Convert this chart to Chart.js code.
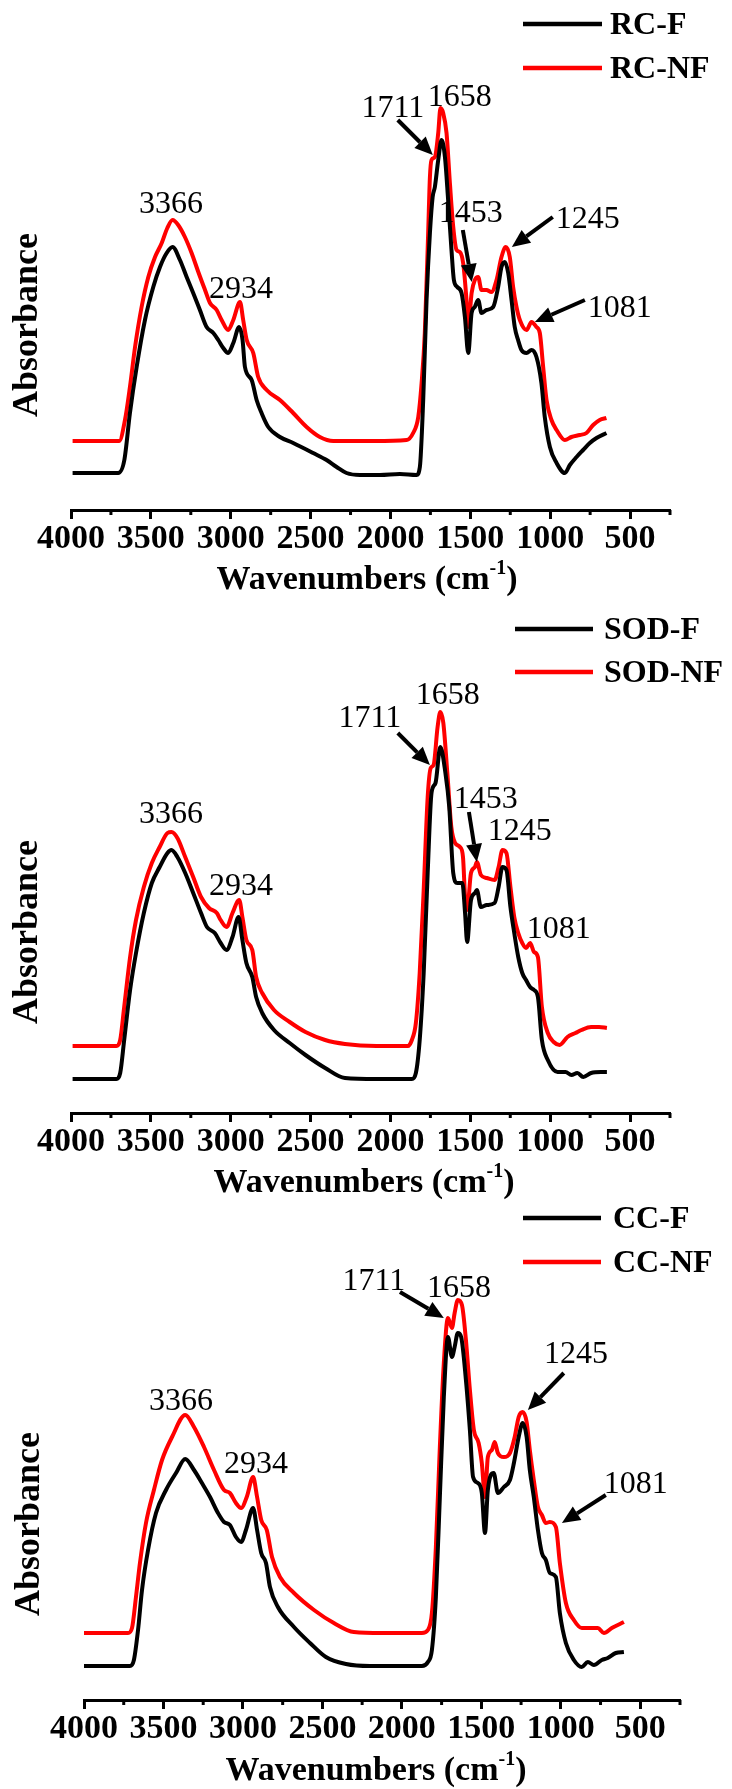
<!DOCTYPE html>
<html><head><meta charset="utf-8">
<script src="https://cdn.jsdelivr.net/npm/chart.js@4.4.1/dist/chart.umd.min.js"></script>
<style>
html,body{margin:0;padding:0;background:#fff;}
body{width:732px;height:1789px;position:relative;overflow:hidden;}
canvas{position:absolute;left:0;}
</style></head><body>
<canvas id="c1" width="732" height="600" style="top:0px"></canvas>
<canvas id="c2" width="732" height="600" style="top:600px"></canvas>
<canvas id="c3" width="732" height="589" style="top:1200px"></canvas>
<script>
// ---- tick labels ----
const xTickValues = [4000,3500,3000,2500,2000,1500,1000,500];
const xMinorValues = [3750,3250,2750,2250,1750,1250,750,250];

// ---- series names ----
const namesRC = ['RC-F','RC-NF'];
const namesSOD = ['SOD-F','SOD-NF'];
const namesCC = ['CC-F','CC-NF'];

// ---- RC panel ----
const rcF_wn = [3990,3704,3666,3631,3589,3537,3485,3443,3401,3364,3318,3276,3235,3193,3151,3109,3078,3047,3016,2984,2947,2926,2911,2869,2838,2807,2765,2692,2609,2484,2400,2337,2275,2191,2066,1941,1837,1816,1795,1774,1753,1736,1722,1701,1680,1659,1639,1618,1603,1582,1555,1534,1513,1492,1472,1451,1430,1399,1357,1326,1305,1284,1263,1242,1222,1201,1180,1148,1117,1086,1055,1034,1002,960,908,877,835,794,752,710,648];
const rcF_abs = [.37,.37,.50,.97,1.43,1.90,2.23,2.43,2.57,2.63,2.50,2.33,2.17,2.00,1.83,1.77,1.70,1.62,1.57,1.67,1.83,1.70,1.43,1.30,1.10,.97,.83,.73,.67,.57,.50,.43,.37,.35,.35,.36,.35,.43,1.10,2.10,2.77,3.13,3.23,3.50,3.70,3.53,3.10,2.60,2.30,2.23,2.17,1.93,1.57,1.97,2.03,2.10,1.97,2.00,2.03,2.23,2.43,2.48,2.37,2.10,1.83,1.70,1.60,1.57,1.60,1.53,1.27,.93,.63,.47,.37,.45,.53,.60,.67,.72,.77];
const rcNF_wn = [3990,3698,3662,3631,3599,3558,3516,3474,3432,3397,3364,3329,3287,3245,3203,3161,3130,3088,3057,3016,2984,2942,2922,2900,2859,2828,2775,2692,2609,2525,2442,2358,2100,1899,1858,1826,1805,1785,1764,1753,1743,1722,1701,1687,1670,1649,1628,1607,1586,1566,1545,1524,1513,1492,1472,1451,1430,1399,1368,1336,1305,1278,1253,1232,1211,1190,1148,1117,1086,1065,1044,1023,992,960,908,867,815,773,731,690,648];
const rcNF_abs = [.69,.69,.90,1.23,1.63,2.03,2.33,2.53,2.67,2.82,2.90,2.85,2.73,2.57,2.38,2.20,2.07,2.00,1.90,1.80,1.90,2.08,1.90,1.70,1.57,1.33,1.20,1.10,.97,.83,.73,.69,.69,.70,.77,.93,1.27,1.77,2.77,3.33,3.50,3.53,3.77,4.02,3.97,3.77,3.27,2.83,2.60,2.58,2.47,2.10,1.83,2.17,2.30,2.33,2.20,2.20,2.18,2.30,2.53,2.63,2.53,2.23,2.03,1.90,1.80,1.88,1.83,1.77,1.43,1.10,.90,.80,.70,.73,.75,.77,.85,.90,.92];

// ---- SOD panel ----
const sodF_wn = [3990,3716,3692,3667,3630,3593,3544,3494,3445,3396,3371,3334,3285,3235,3186,3149,3100,3063,3026,2989,2951,2927,2902,2865,2841,2803,2729,2631,2532,2409,2285,2088,1866,1841,1817,1792,1767,1743,1718,1688,1656,1632,1607,1582,1550,1533,1520,1496,1471,1459,1434,1397,1348,1323,1299,1274,1249,1225,1200,1175,1151,1126,1101,1077,1052,1015,954,904,867,830,793,744,682,645];
const sodF_abs = [.34,.34,.40,.73,1.23,1.60,2.00,2.30,2.46,2.60,2.63,2.56,2.40,2.20,2.00,1.86,1.80,1.70,1.63,1.76,1.96,1.73,1.50,1.36,1.16,1.00,.83,.70,.58,.45,.35,.34,.34,.40,.73,1.40,2.40,3.20,3.30,3.66,3.40,3.06,2.40,2.30,2.30,2.00,1.71,2.13,2.20,2.23,2.06,2.08,2.10,2.26,2.46,2.43,2.06,1.80,1.56,1.40,1.33,1.26,1.23,1.16,.73,.53,.41,.41,.38,.40,.36,.40,.41,.41];
const sodNF_wn = [3990,3716,3692,3667,3630,3593,3544,3494,3445,3396,3371,3334,3285,3235,3186,3136,3087,3063,3026,2989,2947,2927,2902,2865,2841,2803,2729,2631,2532,2409,2285,2088,1891,1866,1841,1817,1792,1767,1748,1730,1705,1688,1669,1644,1619,1595,1565,1546,1533,1520,1496,1471,1459,1434,1397,1348,1323,1299,1274,1249,1225,1200,1175,1151,1126,1101,1077,1052,1015,978,941,892,842,805,744,694,645];
const sodNF_abs = [.67,.67,.73,1.06,1.56,1.93,2.26,2.50,2.66,2.80,2.81,2.75,2.56,2.36,2.16,2.05,2.00,1.93,1.86,2.00,2.13,1.96,1.73,1.63,1.36,1.20,1.03,.91,.81,.73,.69,.67,.67,.73,.90,1.40,2.23,3.16,3.45,3.48,3.86,4.01,3.90,3.40,2.86,2.70,2.66,2.56,2.16,2.03,2.40,2.46,2.51,2.38,2.35,2.33,2.46,2.63,2.60,2.26,1.96,1.80,1.70,1.65,1.70,1.61,1.56,1.06,.80,.71,.68,.76,.80,.83,.86,.86,.85];

// ---- CC panel ----
const ccF_wn = [4000,3711,3686,3660,3635,3597,3547,3484,3421,3363,3308,3258,3207,3157,3119,3082,3044,3011,2981,2936,2911,2885,2855,2830,2780,2679,2578,2478,2352,2201,1874,1836,1811,1786,1761,1736,1710,1685,1668,1648,1627,1597,1572,1552,1522,1497,1477,1459,1422,1396,1358,1320,1295,1265,1240,1215,1195,1170,1144,1119,1094,1069,1031,1006,968,918,868,830,792,742,704,654,603];
const ccF_abs = [.34,.34,.40,.70,1.10,1.50,1.87,2.10,2.27,2.41,2.30,2.17,2.03,1.87,1.78,1.75,1.63,1.58,1.70,1.92,1.70,1.47,1.37,1.13,.93,.73,.57,.43,.36,.34,.34,.38,.50,1.03,2.03,3.03,3.63,3.43,3.53,3.67,3.63,3.20,2.70,2.23,2.17,2.07,1.67,2.10,2.27,2.07,2.13,2.20,2.37,2.63,2.77,2.63,2.30,2.03,1.70,1.47,1.40,1.27,1.23,.87,.57,.40,.33,.38,.35,.40,.42,.47,.48];
const ccNF_wn = [4000,3723,3698,3673,3648,3610,3560,3509,3446,3363,3308,3245,3182,3119,3082,3044,3011,2976,2936,2911,2885,2850,2817,2767,2679,2553,2428,2302,2126,1874,1836,1811,1786,1761,1736,1710,1685,1668,1648,1622,1597,1572,1547,1517,1497,1477,1459,1434,1416,1396,1358,1320,1290,1265,1240,1215,1195,1170,1144,1119,1094,1069,1031,1006,968,918,868,817,767,729,679,603];
const ccNF_abs = [.67,.67,.72,1.03,1.37,1.77,2.10,2.40,2.63,2.85,2.73,2.53,2.30,2.10,2.07,1.97,1.92,2.03,2.23,2.03,1.80,1.70,1.43,1.23,1.07,.90,.77,.68,.67,.67,.70,.87,1.53,2.53,3.37,3.82,3.72,3.87,4.00,3.95,3.60,3.10,2.70,2.57,2.37,2.03,2.43,2.50,2.58,2.47,2.43,2.47,2.63,2.83,2.88,2.78,2.50,2.20,1.93,1.85,1.77,1.78,1.73,1.37,.97,.80,.72,.72,.72,.67,.72,.78];

// ---- peak annotation texts ----
const peaksRC = ['3366','2934','1711','1658','1453','1245','1081'];
const peaksSOD = ['3366','2934','1711','1658','1453','1245','1081'];
const peaksCC = ['3366','2934','1711','1658','1245','1081'];

// ---- placement of annotations (data coordinates: wavenumber, absorbance) ----
const notePlaceRC = [
  {wn:3374,v:2.97},{wn:2936,v:2.12},
  {wn:1985,v:3.93,arrow:[1954,3.90,1735,3.55]},
  {wn:1566,v:4.04},
  {wn:1497,v:2.88,arrow:[1547,2.80,1491,2.28]},
  {wn:765,v:2.82,arrow:[984,2.93,1240,2.63]},
  {wn:564,v:1.93,arrow:[783,2.10,1096,1.88]}
];
const notePlaceSOD = [
  {wn:3374,v:2.90},{wn:2936,v:2.18},
  {wn:2129,v:3.86,arrow:[1954,3.80,1753,3.48]},
  {wn:1641,v:4.09},
  {wn:1403,v:3.05,arrow:[1509,3.01,1459,2.51]},
  {wn:1190,v:2.73},
  {wn:946,v:1.75}
];
const notePlaceCC = [
  {wn:3390,v:2.90},{wn:2918,v:2.27},
  {wn:2176,v:4.10,arrow:[2012,4.08,1736,3.82]},
  {wn:1641,v:4.03},
  {wn:905,v:3.37,arrow:[981,3.27,1207,2.90]},
  {wn:528,v:2.07,arrow:[717,2.05,993,1.77]}
];

const SERIF = '"Liberation Serif","Times New Roman",serif';
const COLORS = ['#000000','#ff0000'];

function pairs(wn, ab){ const n=Math.min(wn.length, ab.length); const out=[]; for(let i=0;i<n;i++) out.push({x:wn[i], y:ab[i]}); return out; }

function drawArrow(ctx,x1,y1,x2,y2){
  const a=Math.atan2(y2-y1,x2-x1), L=18, W=8;
  const bx=x2-L*Math.cos(a), by=y2-L*Math.sin(a);
  ctx.beginPath(); ctx.moveTo(x1,y1); ctx.lineTo(bx,by); ctx.lineWidth=4; ctx.lineCap='butt'; ctx.stroke();
  ctx.beginPath(); ctx.moveTo(x2,y2);
  ctx.lineTo(bx-W*Math.sin(a), by+W*Math.cos(a));
  ctx.lineTo(bx+W*Math.sin(a), by-W*Math.cos(a));
  ctx.closePath(); ctx.fill();
}

const decorPlugin = {
  id:'decor',
  afterDraw(chart){
    const P = chart.options.plugins.decor;
    const ctx = chart.ctx, xs = chart.scales.x, ys = chart.scales.y;
    const yb = chart.chartArea.bottom;
    ctx.save();
    ctx.fillStyle='#000'; ctx.strokeStyle='#000';
    // minor ticks
    ctx.lineWidth=3;
    xMinorValues.forEach(v=>{ const px=xs.getPixelForValue(v); ctx.beginPath(); ctx.moveTo(px,yb); ctx.lineTo(px,yb+5); ctx.stroke(); });
    // legend
    chart.data.datasets.forEach((ds,i)=>{
      const ly=P.legend.y[i];
      ctx.strokeStyle=ds.borderColor; ctx.lineWidth=4.5;
      ctx.beginPath(); ctx.moveTo(P.legend.x1,ly); ctx.lineTo(P.legend.x2,ly); ctx.stroke();
      ctx.fillStyle='#000'; ctx.font='bold 32px '+SERIF; ctx.textAlign='left'; ctx.textBaseline='middle';
      ctx.fillText(ds.label, P.legend.tx, ly+2);
    });
    // annotations
    ctx.fillStyle='#000'; ctx.strokeStyle='#000';
    ctx.font='32px '+SERIF; ctx.textAlign='center'; ctx.textBaseline='alphabetic';
    P.notes.forEach((n,i)=>{
      ctx.fillText(P.texts[i], xs.getPixelForValue(n.wn), ys.getPixelForValue(n.v));
      if(n.arrow){
        const a=n.arrow;
        drawArrow(ctx, xs.getPixelForValue(a[0]), ys.getPixelForValue(a[1]), xs.getPixelForValue(a[2]), ys.getPixelForValue(a[3]));
      }
    });
    // y title
    ctx.save();
    ctx.translate(P.ytitle.x, P.ytitle.y); ctx.rotate(-Math.PI/2);
    ctx.font='bold 36px '+SERIF; ctx.textAlign='center'; ctx.textBaseline='middle';
    ctx.fillText('Absorbance',0,0);
    ctx.restore();
    // x title with superscript
    const t1='Wavenumbers (cm', t2='-1', t3=')';
    const fMain='bold 34px '+SERIF, fSup='bold 20px '+SERIF;
    ctx.font=fMain; const w1=ctx.measureText(t1).width, w3=ctx.measureText(t3).width;
    ctx.font=fSup; const w2=ctx.measureText(t2).width;
    let sx=P.xtitle.x-(w1+w2+w3)/2, by=P.xtitle.y;
    ctx.textAlign='left'; ctx.textBaseline='alphabetic';
    ctx.font=fMain; ctx.fillText(t1,sx,by);
    ctx.font=fSup; ctx.fillText(t2,sx+w1,by-15);
    ctx.font=fMain; ctx.fillText(t3,sx+w1+w2,by);
    ctx.restore();
  }
};

function makePanel(cfg){
  const canvas=document.getElementById(cfg.id);
  const H=canvas.height;
  return new Chart(canvas,{
    type:'line',
    data:{datasets: cfg.names.map((nm,i)=>({
      label:nm, data:pairs(cfg.wn[i], cfg.ab[i]),
      borderColor:COLORS[i], backgroundColor:COLORS[i], borderWidth:4,
      pointRadius:0, cubicInterpolationMode:'monotone', fill:false
    }))},
    options:{
      responsive:false, animation:false, devicePixelRatio:1,
      layout:{padding:{left:cfg.left, right:732-cfg.right, top:0, bottom:0}},
      plugins:{legend:{display:false}, tooltip:{enabled:false}, title:{display:false},
        decor:{legend:cfg.legend, notes:cfg.notes, texts:cfg.texts, ytitle:cfg.ytitle, xtitle:cfg.xtitle}},
      scales:{
        x:{type:'linear', reverse:true, min:250, max:4000,
          afterBuildTicks:(s)=>{ s.ticks = xTickValues.map(v=>({value:v})); },
          afterFit:(s)=>{ s.height = H - cfg.axis; },
          ticks:{autoSkip:false, maxRotation:0, minRotation:0, padding:0, color:'#000',
            font:{family:SERIF, size:34, weight:'bold'}, callback:(v)=>String(v)},
          grid:{display:true, drawOnChartArea:false, drawTicks:true, tickLength:9, tickWidth:3, tickColor:'#000', color:'#000'},
          border:{display:true, width:3, color:'#000'}
        },
        y:{display:false, min:0, max:cfg.axis/100}
      }
    },
    plugins:[decorPlugin]
  });
}

makePanel({id:'c1', axis:510, left:71, right:670, names:namesRC, wn:[rcF_wn,rcNF_wn], ab:[rcF_abs,rcNF_abs],
  legend:{x1:523,x2:602,tx:610,y:[24,68]}, ytitle:{x:28,y:325}, xtitle:{x:367,y:589}, notes:notePlaceRC, texts:peaksRC});
makePanel({id:'c2', axis:513, left:71, right:670, names:namesSOD, wn:[sodF_wn,sodNF_wn], ab:[sodF_abs,sodNF_abs],
  legend:{x1:515,x2:593,tx:604,y:[29,72]}, ytitle:{x:28,y:332}, xtitle:{x:364,y:592}, notes:notePlaceSOD, texts:peaksSOD});
makePanel({id:'c3', axis:500, left:84, right:680, names:namesCC, wn:[ccF_wn,ccNF_wn], ab:[ccF_abs,ccNF_abs],
  legend:{x1:523,x2:601,tx:613,y:[18,62]}, ytitle:{x:30,y:324}, xtitle:{x:376,y:580}, notes:notePlaceCC, texts:peaksCC});
</script>
</body></html>
